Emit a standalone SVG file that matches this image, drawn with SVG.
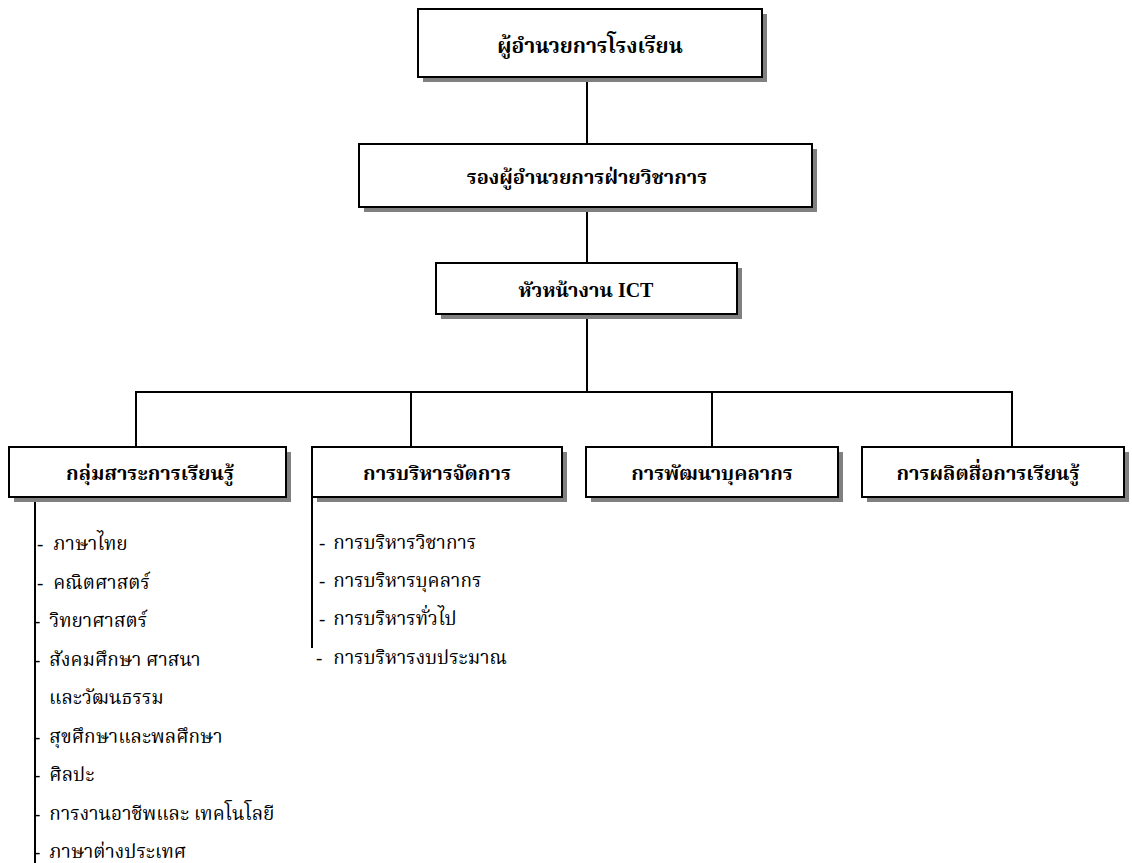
<svg xmlns="http://www.w3.org/2000/svg" width="1132" height="863" viewBox="0 0 1132 863">
<style>
.bg{fill:#ffffff}
.shadow{fill:#808080}
.box{fill:#ffffff;stroke:#000000;stroke-width:2}
.title{font-family:'Liberation Serif','Noto Serif Thai','Noto Sans Thai',serif;font-weight:bold;font-size:20px;fill:#000;text-anchor:middle;dominant-baseline:central}
.big{font-size:21px}
.item{font-family:'Liberation Serif','Noto Serif Thai','Noto Sans Thai',serif;font-size:19px;fill:#000;dominant-baseline:central}
.conn{stroke:#000;stroke-width:2;fill:none}
</style>
<rect class="bg" x="0" y="0" width="1132" height="863"/>
<g id="connectors">
<line class="conn" x1="587" y1="77" x2="587" y2="144"/>
<line class="conn" x1="587" y1="207" x2="587" y2="263"/>
<line class="conn" x1="587" y1="314" x2="587" y2="392"/>
<line class="conn" x1="135" y1="392" x2="1013" y2="392"/>
<line class="conn" x1="136" y1="392" x2="136" y2="447"/>
<line class="conn" x1="411" y1="392" x2="411" y2="447"/>
<line class="conn" x1="712" y1="392" x2="712" y2="447"/>
<line class="conn" x1="1012" y1="392" x2="1012" y2="447"/>
<line class="conn" x1="35" y1="497" x2="35" y2="863"/>
<line class="conn" x1="312" y1="497" x2="312" y2="648"/>
</g>
<g id="n-director">
<rect class="shadow" x="423" y="14" width="344" height="68"/>
<rect class="box" x="418" y="9" width="344" height="68"/>
<text class="title big" x="590" y="46">ผู้อำนวยการโรงเรียน</text>
</g>
<g id="n-deputy">
<rect class="shadow" x="364" y="149" width="453" height="63"/>
<rect class="box" x="359" y="144" width="453" height="63"/>
<text class="title" x="587" y="177">รองผู้อำนวยการฝ่ายวิชาการ</text>
</g>
<g id="n-ict">
<rect class="shadow" x="441" y="268" width="301" height="51"/>
<rect class="box" x="436" y="263" width="301" height="51"/>
<text class="title" x="586" y="290">หัวหน้างาน ICT</text>
</g>
<g id="n-learning">
<rect class="shadow" x="14" y="452" width="277" height="50"/>
<rect class="box" x="9" y="447" width="277" height="50"/>
<text class="title" x="150" y="473">กลุ่มสาระการเรียนรู้</text>
</g>
<g id="n-admin">
<rect class="shadow" x="317" y="452" width="250" height="50"/>
<rect class="box" x="312" y="447" width="250" height="50"/>
<text class="title" x="437" y="473">การบริหารจัดการ</text>
</g>
<g id="n-personnel">
<rect class="shadow" x="591" y="452" width="252" height="50"/>
<rect class="box" x="586" y="447" width="252" height="50"/>
<text class="title" x="712" y="473">การพัฒนาบุคลากร</text>
</g>
<g id="n-media">
<rect class="shadow" x="867" y="452" width="262" height="50"/>
<rect class="box" x="862" y="447" width="262" height="50"/>
<text class="title" x="988" y="473">การผลิตสื่อการเรียนรู้</text>
</g>
<g id="list-learning">
<text class="item" x="37" y="543">-<tspan dx="10">ภาษาไทย</tspan></text>
<text class="item" x="37" y="582">-<tspan dx="10">คณิตศาสตร์</tspan></text>
<text class="item" x="34" y="620">-<tspan dx="9">วิทยาศาสตร์</tspan></text>
<text class="item" x="34" y="659">-<tspan dx="9">สังคมศึกษา ศาสนา</tspan></text>
<text class="item" x="49" y="697">และวัฒนธรรม</text>
<text class="item" x="34" y="736">-<tspan dx="9">สุขศึกษาและพลศึกษา</tspan></text>
<text class="item" x="34" y="774">-<tspan dx="9">ศิลปะ</tspan></text>
<text class="item" x="34" y="813">-<tspan dx="9">การงานอาชีพและ เทคโนโลยี</tspan></text>
<text class="item" x="34" y="851">-<tspan dx="9">ภาษาต่างประเทศ</tspan></text>
</g>
<g id="list-admin">
<text class="item" x="319" y="542">-<tspan dx="8">การบริหารวิชาการ</tspan></text>
<text class="item" x="319" y="580">-<tspan dx="8">การบริหารบุคลากร</tspan></text>
<text class="item" x="319" y="618">-<tspan dx="8">การบริหารทั่วไป</tspan></text>
<text class="item" x="316" y="657">-<tspan dx="11">การบริหารงบประมาณ</tspan></text>
</g>
</svg>
